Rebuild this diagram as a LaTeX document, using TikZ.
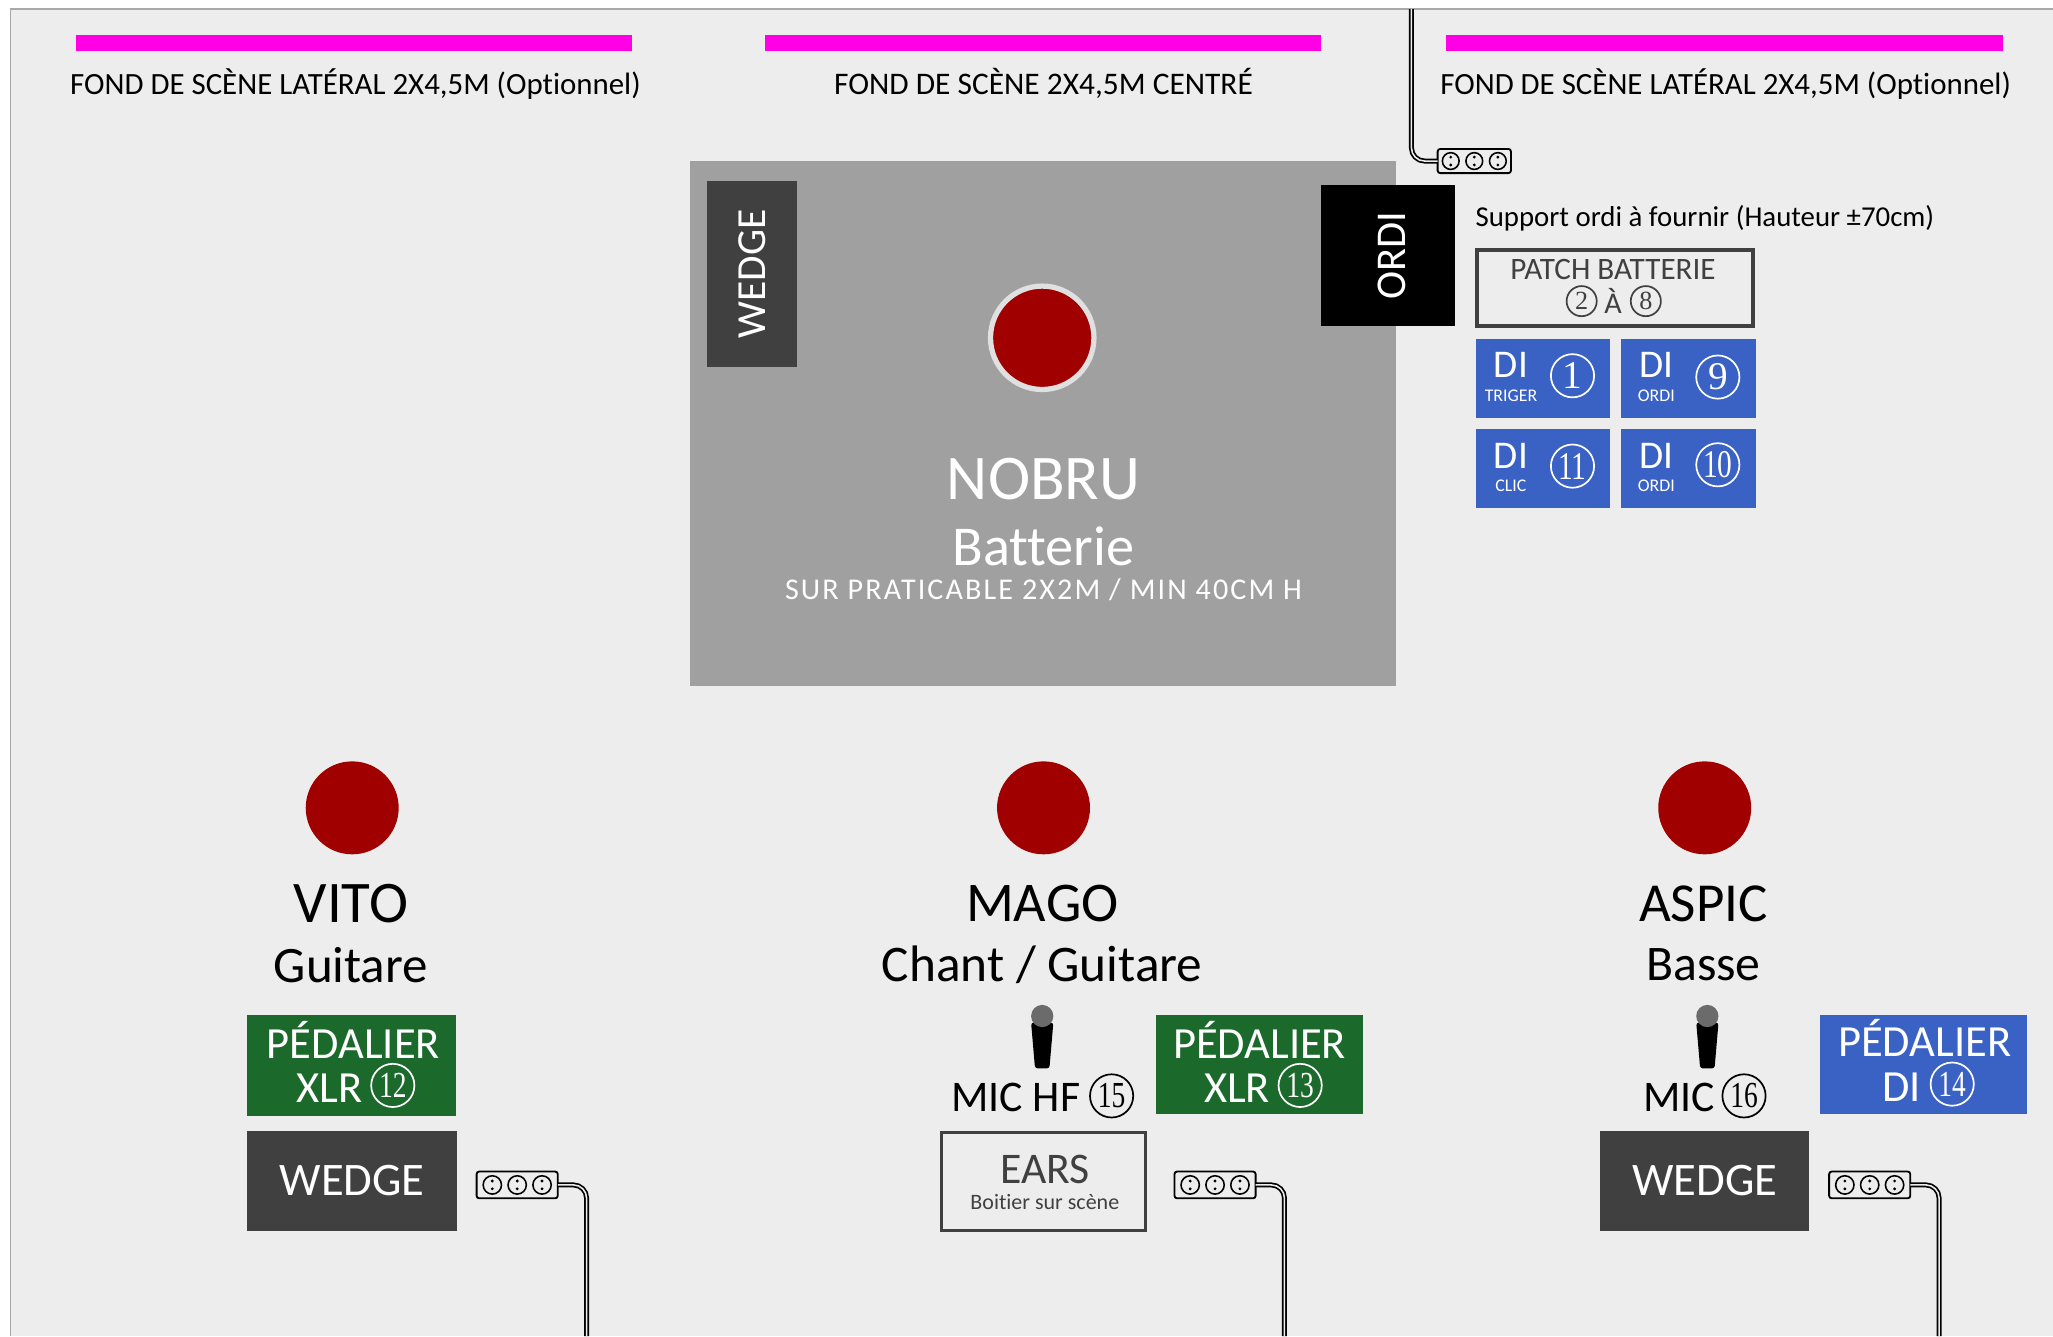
\documentclass[tikz,border=0pt]{standalone}
\usepackage{fontspec}
\setmainfont[Ligatures=NoCommon]{Carlito}
\newfontfamily\numfont{Liberation Serif}
\definecolor{bgc}{HTML}{EDEDED}
\definecolor{edgec}{HTML}{A8A8A8}
\definecolor{mag}{HTML}{FF00E6}
\definecolor{riser}{HTML}{A0A0A0}
\definecolor{dark}{HTML}{404040}
\definecolor{redc}{HTML}{A00000}
\definecolor{bluec}{HTML}{3A62C4}
\definecolor{greenc}{HTML}{1B6A2C}
\tikzset{
 x=0.5pt,y=-0.5pt,
 block/.style={inner sep=0pt,outer sep=0pt,align=center},
 magbar/.style={block,fill=mag},
 wedgebox/.style={block,fill=dark,text=white},
 bluebox/.style={block,fill=bluec,text=white},
 greenbox/.style={block,fill=greenc,text=white},
 framebox/.style={block,draw=dark,line width=1.3pt,text=dark},
 lab/.style={inner sep=0pt,outer sep=0pt,align=center},
 spot/.style={circle,fill=redc,inner sep=0pt,outer sep=0pt,minimum size=35.5pt},
 numc/.style={circle,draw=#1,text=#1,line width=0.65pt,inner sep=0pt,outer sep=0pt},
 numc/.default=black,
 cableout/.style={line width=1.9pt,draw=black,rounded corners=5pt},
 cablein/.style={line width=0.6pt,draw=bgc,rounded corners=5pt},
 stripbox/.style={draw=black,fill=bgc,line width=0.7pt,rounded corners=1pt,inner sep=0pt,outer sep=0pt},
}
\newcommand{\bx}[7]{\node[#2,minimum width={(#5-#3)*0.5pt},minimum height={(#6-#4)*0.5pt}] (#1) at ({(#3+#5)/2},{(#4+#6)/2}) {#7};}
\newcommand{\nbr}[5][black]{\node[numc=#1,minimum size=#5*0.5pt] (#2) at (#3,#4) {};}
% name, x, y, width (units), spacing, hole radius (pt)
\newcommand{\powerstrip}[6]{%
 \node[stripbox,minimum width=#4*0.5pt,minimum height=#4*0.5pt*0.33] (#1) at (#2,#3) {};
 \foreach \dx in {-#5,0,#5}{
  \draw[black,line width=0.6pt] ({#2+\dx},#3) circle (#6pt);
  \fill[black] ({#2+\dx},{#3-3}) circle (0.6pt);
  \fill[black] ({#2+\dx},{#3+3}) circle (0.6pt);
 }}
\newcommand{\micro}[3]{%
 \fill[black,rounded corners=1pt] (#2-8.5,#3+5) -- (#2+8.5,#3+5) -- (#2+5.5,#3+40) -- (#2-5.5,#3+40) -- cycle;
 \node[circle,fill=black!58,inner sep=0pt,outer sep=0pt,minimum size=8.5pt] (#1) at (#2,#3) {};}
\newcommand{\fnt}[1]{\fontsize{#1}{#1}\selectfont}
\begin{document}
\begin{tikzpicture}
\useasboundingbox (0,0) rectangle (1568,1020.4);
\fill[white] (0,0) rectangle (1568,1020.4);
\fill[bgc] (8,7) rectangle (1568,1020.4);
\draw[edgec,line width=0.7pt] (8,1020.4) -- (8,7) -- (1568,7);

\bx{barl}{magbar}{58}{27}{483}{39}{}
\bx{barc}{magbar}{584}{27}{1009}{39}{}
\bx{barr}{magbar}{1104}{27}{1530}{39}{}
\node[lab,font=\fnt{11.8}] (tl) at (271.5,64) {FOND DE SCÈNE LATÉRAL 2X4,5M (Optionnel)};
\node[lab,font=\fnt{12}] (tc) at (797,64) {FOND DE SCÈNE 2X4,5M CENTRÉ};
\node[lab,font=\fnt{11.8}] (tr) at (1318,64) {FOND DE SCÈNE LATÉRAL 2X4,5M (Optionnel)};

\bx{riser}{block,fill=riser}{527}{123}{1066}{524}{}
\bx{wedgetop}{wedgebox}{540}{138}{609}{280}{\rotatebox{90}{\fnt{15.8}WEDGE}}
\bx{ordi}{block,fill=black,text=white}{1009}{141}{1111}{249}{\hspace{3pt}\rotatebox{90}{\fnt{16.2}ORDI}}
\node[spot,minimum size=39.5pt,draw=black!12,line width=2pt] (spotn) at (796,258) {};
\node[lab,text=white,font=\fnt{24.3}] (nobru) at (797,366) {NOBRU};
\node[lab,text=white,font=\fnt{21.5}] (batt) at (797,417) {Batterie};
\node[lab,text=white,font=\fnt{11.5}\addfontfeature{LetterSpace=7}] (prat) at (797,450) {SUR PRATICABLE 2X2M / MIN 40CM H};

\powerstrip{stop}{1126}{123}{56}{18}{3.2}
\coordinate (ctop) at (1078,7);
\draw[cableout] (ctop) |- (stop.west);
\draw[cablein] (ctop) |- (stop.west);

\node[lab,anchor=west,font=\fnt{11}] (support) at (1127,167) {Support ordi à fournir (Hauteur ±70cm)};
\bx{patch}{framebox}{1128}{191}{1339}{249}{}
\node[lab,text=dark,font=\fnt{11.9}] (patcht) at (1232,206) {PATCH BATTERIE};
\node[lab,text=dark,font=\fnt{11.5}] (patcha) at (1232,230) {À};
\nbr[dark]{n2}{1208}{230}{23}
\node[font=\numfont\fnt{10},text=dark,inner sep=0pt] (n2t) at (n2) {2};
\nbr[dark]{n8}{1257}{230}{23}
\node[font=\numfont\fnt{10},text=dark,inner sep=0pt] (n8t) at (n8) {8};

\bx{di1}{bluebox}{1127}{259}{1230}{319}{}
\bx{di9}{bluebox}{1238}{259}{1341}{319}{}
\bx{di11}{bluebox}{1127}{328}{1230}{388}{}
\bx{di10}{bluebox}{1238}{328}{1341}{388}{}
\node[lab,text=white,font=\fnt{15}] (d1a) at (1154,279) {DI};
\node[lab,text=white,font=\fnt{6.8}] (d1b) at (1154,302) {TRIGER};
\node[lab,text=white,font=\fnt{15}] (d9a) at (1265,279) {DI};
\node[lab,text=white,font=\fnt{6.8}] (d9b) at (1265,302) {ORDI};
\node[lab,text=white,font=\fnt{15}] (d11a) at (1154,348) {DI};
\node[lab,text=white,font=\fnt{6.8}] (d11b) at (1154,371) {CLIC};
\node[lab,text=white,font=\fnt{15}] (d10a) at (1265,348) {DI};
\node[lab,text=white,font=\fnt{6.8}] (d10b) at (1265,371) {ORDI};
\nbr[white]{n1}{1201}{287}{33}
\node[font=\numfont\fnt{15},text=white,inner sep=0pt] (n1t) at (n1) {1};
\nbr[white]{n9}{1312}{288}{33}
\node[font=\numfont\fnt{15},text=white,inner sep=0pt] (n9t) at (n9) {9};
\nbr[white]{n11}{1201}{356}{33}
\node[font=\numfont\fnt{15},text=white,inner sep=0pt] (n11t) at (n11) {\scalebox{0.75}[1]{11}};
\nbr[white]{n10}{1312}{355}{33}
\node[font=\numfont\fnt{15},text=white,inner sep=0pt] (n10t) at (n10) {\scalebox{0.75}[1]{10}};

% Front row
\node[spot] (spotv) at (269,617) {};
\node[spot] (spotm) at (797,617) {};
\node[spot] (spota) at (1302,617) {};
\node[lab,font=\fnt{22.5}] (vito) at (268,690) {VITO};
\node[lab,font=\fnt{19.5}] (guit) at (268,737) {Guitare};
\node[lab,font=\fnt{21.4}] (mago) at (796,690) {MAGO};
\node[lab,font=\fnt{19.6}] (chant) at (796,737) {Chant / Guitare};
\node[lab,font=\fnt{21}] (aspic) at (1301,690) {ASPIC};
\node[lab,font=\fnt{19}] (basse) at (1301,737) {Basse};

% Vito
\bx{pedv}{greenbox}{189}{775}{348}{852}{}
\node[lab,text=white,font=\fnt{17}] (pedv1) at (270,794) {PÉDALIER};
\node[lab,text=white,font=\fnt{17},anchor=east] (pedv2) at (277,831) {XLR};
\nbr[white]{n12}{300}{829}{33}
\node[font=\numfont\fnt{14},text=white,inner sep=0pt] (n12t) at (n12) {\scalebox{0.75}[1]{12}};
\bx{wedgev}{wedgebox}{189}{864}{349}{940}{\fnt{17.8}WEDGE}
\powerstrip{sv}{395}{905}{62}{19}{3.5}
\coordinate (cv) at (448,1020.4);
\draw[cableout] (sv.east) -| (cv);
\draw[cablein] (sv.east) -| (cv);

% Mago
\micro{micm}{796}{776}
\node[lab,font=\fnt{16.7},anchor=east] (mict) at (825,838) {MIC HF};
\nbr[black]{n15}{849}{837}{33}
\node[font=\numfont\fnt{14},inner sep=0pt] (n15t) at (n15) {\scalebox{0.75}[1]{15}};
\bx{pedm}{greenbox}{883}{775}{1041}{851}{}
\node[lab,text=white,font=\fnt{17}] (pedm1) at (962,794) {PÉDALIER};
\node[lab,text=white,font=\fnt{17},anchor=east] (pedm2) at (970,831) {XLR};
\nbr[white]{n13}{993}{829}{33}
\node[font=\numfont\fnt{14},text=white,inner sep=0pt] (n13t) at (n13) {\scalebox{0.75}[1]{13}};
\bx{ears}{framebox}{719}{865}{875}{940}{}
\node[lab,text=dark,font=\fnt{16.7}] (earst) at (798,893) {EARS};
\node[lab,text=dark,font=\fnt{8.4}] (earsb) at (798,918) {Boitier sur scène};
\powerstrip{sm}{928}{905}{62}{19}{3.5}
\coordinate (cm) at (981,1020.4);
\draw[cableout] (sm.east) -| (cm);
\draw[cablein] (sm.east) -| (cm);

% Aspic
\micro{mica}{1304}{776}
\node[lab,font=\fnt{16.7},anchor=east] (mict2) at (1310,838) {MIC};
\nbr[black]{n16}{1332}{837}{33}
\node[font=\numfont\fnt{14},inner sep=0pt] (n16t) at (n16) {\scalebox{0.75}[1]{16}};
\bx{peda}{bluebox}{1390}{775}{1548}{851}{}
\node[lab,text=white,font=\fnt{17}] (peda1) at (1470,793) {PÉDALIER};
\node[lab,text=white,font=\fnt{17},anchor=east] (peda2) at (1467,830) {DI};
\nbr[white]{n14}{1491}{828}{33}
\node[font=\numfont\fnt{14},text=white,inner sep=0pt] (n14t) at (n14) {\scalebox{0.75}[1]{14}};
\bx{wedgea}{wedgebox}{1222}{864}{1382}{940}{\fnt{17.8}WEDGE}
\powerstrip{sa}{1428}{905}{62}{19}{3.5}
\coordinate (ca) at (1481,1020.4);
\draw[cableout] (sa.east) -| (ca);
\draw[cablein] (sa.east) -| (ca);
\end{tikzpicture}
\end{document}
